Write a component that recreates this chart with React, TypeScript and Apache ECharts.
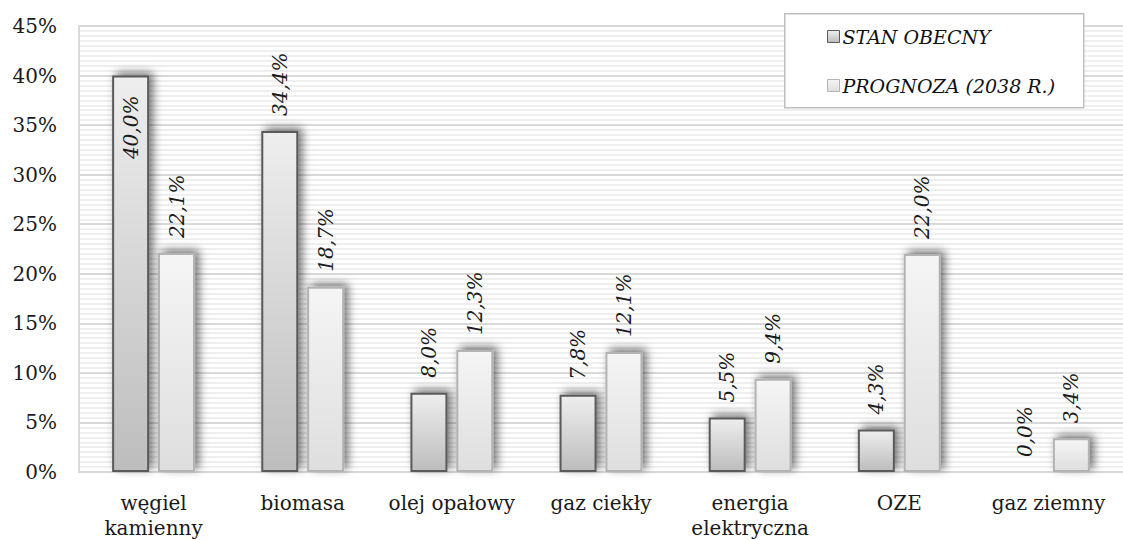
import React, { useEffect, useRef } from "react";
import * as echarts from "echarts";

const categories = [
  "węgiel\nkamienny",
  "biomasa",
  "olej opałowy",
  "gaz ciekły",
  "energia\nelektryczna",
  "OZE",
  "gaz ziemny",
];
const seriesNames = ["STAN OBECNY", "PROGNOZA (2038 R.)"];
const currentValues = [40.0, 34.4, 8.0, 7.8, 5.5, 4.3, 0.0];
const forecastValues = [22.1, 18.7, 12.3, 12.1, 9.4, 22.0, 3.4];

const FONT = "DejaVu Serif";

const fmt = (v: number) => v.toFixed(1).replace(".", ",") + "%";

export default function App() {
  const ref = useRef<HTMLDivElement>(null);
  useEffect(() => {
    if (!ref.current) return;
    const chart = echarts.init(ref.current, undefined, { renderer: "svg" });
    const g1 = new echarts.graphic.LinearGradient(0, 0, 0, 1, [
      { offset: 0, color: "#eeeeee" },
      { offset: 1, color: "#bdbdbd" },
    ]);
    const g2 = new echarts.graphic.LinearGradient(0, 0, 0, 1, [
      { offset: 0, color: "#f5f5f5" },
      { offset: 1, color: "#dedede" },
    ]);
    const topLabel = {
      show: true,
      position: "top",
      rotate: 90,
      distance: 15,
      align: "left",
      verticalAlign: "middle",
      fontFamily: FONT,
      fontStyle: "italic",
      fontSize: 20,
      color: "#1a1a1a",
      formatter: (p: any) => fmt(p.value),
    };
    const shadow = {
      shadowBlur: 10,
      shadowColor: "rgba(0,0,0,0.55)",
      shadowOffsetX: 4,
      shadowOffsetY: -3,
    };
    const s1Data = currentValues.map((v, i) => {
      if (i === 0) {
        return {
          value: v,
          label: {
            ...topLabel,
            position: "insideTop",
            align: "right",
            distance: 20,
          },
        };
      }
      if (v === 0) {
        return {
          value: v,
          itemStyle: {
            color: "rgba(0,0,0,0)",
            borderWidth: 0,
            shadowBlur: 0,
            shadowColor: "rgba(0,0,0,0)",
          },
        };
      }
      return { value: v };
    });
    chart.setOption({
      animation: false,
      backgroundColor: "#ffffff",
      grid: { left: 79, top: 26, width: 1050, height: 447, containLabel: false },
      graphic: [
        {
          type: "rect",
          left: 784,
          top: 13,
          z: 3,
          shape: { width: 299, height: 94 },
          style: { fill: "#ffffff", stroke: "#bfbfbf", lineWidth: 1.5 },
        },
      ],
      legend: {
        orient: "vertical",
        left: 822,
        top: 22,
        z: 5,
        itemGap: 30,
        itemWidth: 12,
        itemHeight: 12,
        icon: "rect",
        textStyle: {
          fontFamily: FONT,
          fontStyle: "italic",
          fontSize: 19,
          color: "#111111",
          padding: [0, 0, 0, -2],
        },
        data: [
          { name: seriesNames[0], itemStyle: { borderWidth: 1, shadowBlur: 0 } },
          { name: seriesNames[1], itemStyle: { borderWidth: 1, shadowBlur: 0 } },
        ],
      },
      xAxis: {
        type: "category",
        data: categories,
        axisLine: { show: true, lineStyle: { color: "#d9d9d9", width: 2 } },
        axisTick: { show: false },
        axisLabel: {
          fontFamily: FONT,
          fontSize: 20,
          color: "#1a1a1a",
          margin: 18,
          lineHeight: 25,
          interval: 0,
        },
      },
      yAxis: {
        type: "value",
        min: 0,
        max: 45,
        interval: 5,
        axisLine: { show: true, lineStyle: { color: "#d9d9d9", width: 2 } },
        axisTick: { show: false },
        axisLabel: {
          formatter: "{value}%",
          fontFamily: FONT,
          fontSize: 20,
          color: "#1a1a1a",
          margin: 22,
        },
        splitLine: { show: true, lineStyle: { color: "#d9d9d9", width: 2 } },
        minorTick: { show: false, splitNumber: 10 },
        minorSplitLine: { show: true, lineStyle: { color: "#efefef", width: 2 } },
      },
      series: [
        {
          name: seriesNames[0],
          type: "bar",
          data: s1Data,
          barWidth: 37,
          barGap: "24%",
          itemStyle: { color: g1, borderColor: "#5a5a5a", borderWidth: 2, ...shadow },
          label: topLabel,
        },
        {
          name: seriesNames[1],
          type: "bar",
          data: forecastValues,
          barWidth: 37,
          itemStyle: { color: g2, borderColor: "#b3b3b3", borderWidth: 2, ...shadow },
          label: topLabel,
        },
      ],
    });
    return () => chart.dispose();
  }, []);
  return (
    <div
      ref={ref}
      style={{ position: "fixed", left: 0, top: 0, width: 1123, height: 540 }}
    />
  );
}
